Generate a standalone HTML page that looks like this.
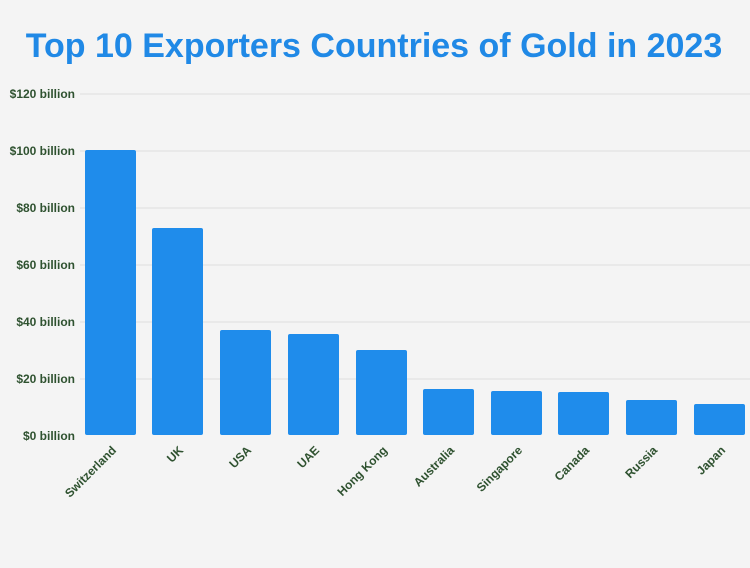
<!DOCTYPE html>
<html><head><meta charset="utf-8"><style>
body{margin:0;width:750px;height:563px;background:#f4f4f4;overflow:hidden}
</style></head><body>
<svg width="750" height="563" xmlns="http://www.w3.org/2000/svg" font-family="Liberation Sans, sans-serif">
<rect width="750" height="563" fill="#f4f4f4"/>
<text x="374" y="57" text-anchor="middle" font-size="34" font-weight="bold" fill="#2089e6">Top 10 Exporters Countries of Gold in 2023</text>
<g stroke="#dedede" stroke-width="1">
<line x1="80" x2="750" y1="94" y2="94"/><line x1="80" x2="750" y1="151" y2="151"/>
<line x1="80" x2="750" y1="208" y2="208"/><line x1="80" x2="750" y1="265" y2="265"/>
<line x1="80" x2="750" y1="322" y2="322"/><line x1="80" x2="750" y1="379" y2="379"/>
</g>
<g font-size="12" font-weight="bold" fill="#2f5230" text-anchor="end">
<text x="75" y="98">$120 billion</text><text x="75" y="155">$100 billion</text>
<text x="75" y="212">$80 billion</text><text x="75" y="269">$60 billion</text>
<text x="75" y="326">$40 billion</text><text x="75" y="383">$20 billion</text>
<text x="75" y="440">$0 billion</text>
</g>
<g fill="#1f8ceb">
<rect x="85" y="150" width="51" height="285" rx="2"/>
<rect x="152" y="228" width="51" height="207" rx="2"/>
<rect x="220" y="330" width="51" height="105" rx="2"/>
<rect x="288" y="334" width="51" height="101" rx="2"/>
<rect x="356" y="350" width="51" height="85" rx="2"/>
<rect x="423" y="389" width="51" height="46" rx="2"/>
<rect x="491" y="391" width="51" height="44" rx="2"/>
<rect x="558" y="392" width="51" height="43" rx="2"/>
<rect x="626" y="400" width="51" height="35" rx="2"/>
<rect x="694" y="404" width="51" height="31" rx="2"/>
</g>
<g font-size="12" font-weight="bold" fill="#2f5230" text-anchor="end">
<text transform="translate(117,451) rotate(-45)">Switzerland</text>
<text transform="translate(184,451) rotate(-45)">UK</text>
<text transform="translate(252,451) rotate(-45)">USA</text>
<text transform="translate(320,451) rotate(-45)">UAE</text>
<text transform="translate(388,451) rotate(-45)">Hong Kong</text>
<text transform="translate(455,451) rotate(-45)">Australia</text>
<text transform="translate(523,451) rotate(-45)">Singapore</text>
<text transform="translate(590,451) rotate(-45)">Canada</text>
<text transform="translate(658,451) rotate(-45)">Russia</text>
<text transform="translate(726,451) rotate(-45)">Japan</text>
</g>
</svg>
</body></html>
